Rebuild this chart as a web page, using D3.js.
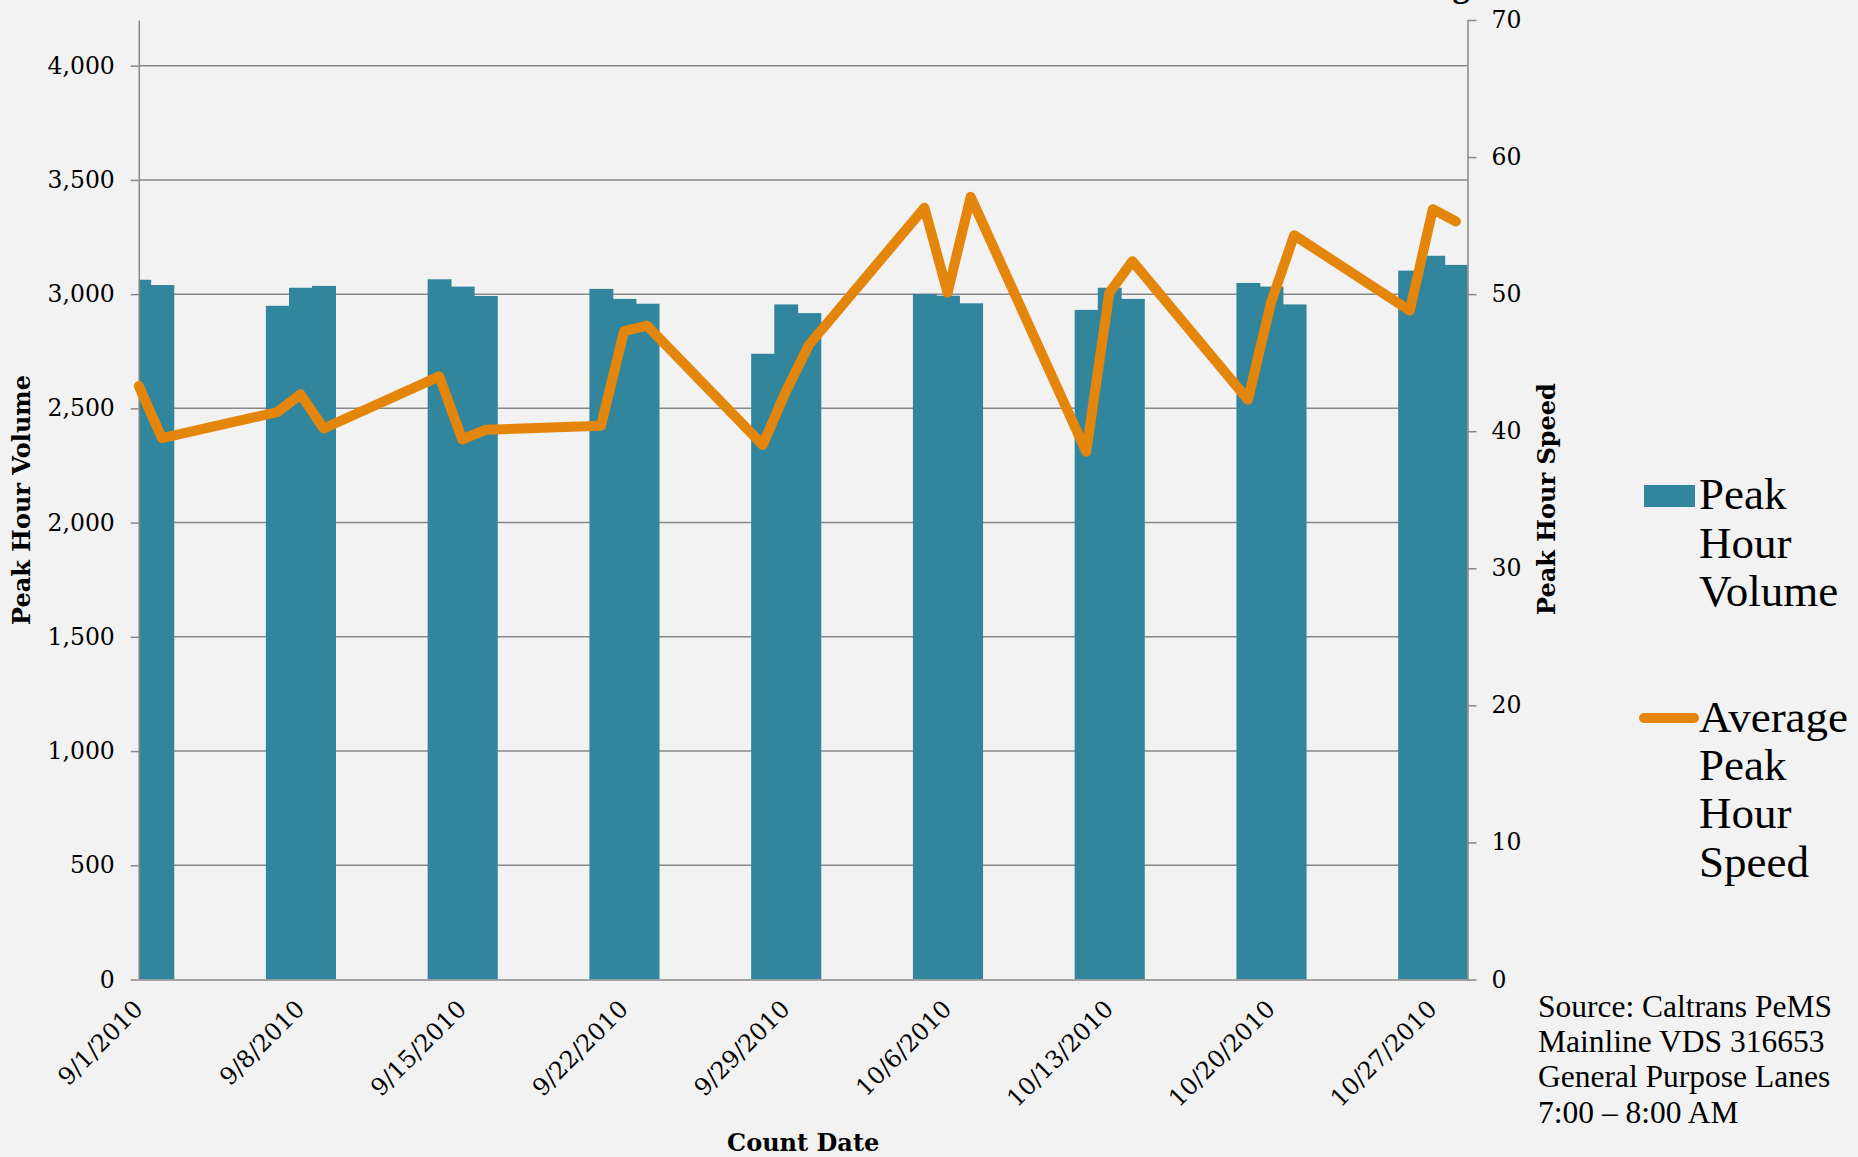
<!DOCTYPE html>
<html>
<head>
<meta charset="utf-8">
<script src="https://cdn.jsdelivr.net/npm/d3@7"></script>
<style>
  body { margin: 0; background: #f2f2f2; }
  svg { display: block; }
</style>
</head>
<body>
<div class="chart"></div>
<script>
// count days (three weekdays per week) and their peak hour values
var dates = ["9/1/2010", "9/2/2010", "9/7/2010", "9/8/2010", "9/9/2010",
  "9/14/2010", "9/15/2010", "9/16/2010", "9/21/2010", "9/22/2010", "9/23/2010",
  "9/28/2010", "9/29/2010", "9/30/2010", "10/5/2010", "10/6/2010", "10/7/2010",
  "10/12/2010", "10/13/2010", "10/14/2010", "10/19/2010", "10/20/2010", "10/21/2010",
  "10/26/2010", "10/27/2010", "10/28/2010"];

var volume = [3063, 3040, 2949, 3028, 3036, 3065, 3033, 2992, 3023, 2979, 2958,
  2739, 2955, 2917, 3001, 2993, 2960, 2931, 3028, 2979, 3049, 3033, 2955,
  3103, 3168, 3128];

var speed = [43.3, 39.5, 41.4, 42.7, 40.2, 44.0, 39.4, 40.1, 40.4, 47.3, 47.7,
  39.0, 42.9, 46.3, 56.3, 50.1, 57.1, 38.5, 50.1, 52.4, 42.3, 49.4, 54.3,
  48.8, 56.2, 55.3];

var dateTicks = ["9/1/2010", "9/8/2010", "9/15/2010", "9/22/2010", "9/29/2010",
  "10/6/2010", "10/13/2010", "10/20/2010", "10/27/2010"];
var volumeTicks = [0, 500, 1000, 1500, 2000, 2500, 3000, 3500, 4000];
var speedTicks = [0, 10, 20, 30, 40, 50, 60, 70];

var sourceLines = ["Source: Caltrans PeMS", "Mainline VDS 316653",
  "General Purpose Lanes", "7:00 \u2013 8:00 AM"];

var W = 1858, H = 1157;
var margin = {top: 20, right: 390.5, bottom: 177.5, left: 138.8},
    width = W - margin.left - margin.right,
    height = H - margin.top - margin.bottom;

var blue = "#31859c", orange = "#e4860b", grid = "#888888";

var parse = d3.timeParse("%m/%d/%Y"),
    fmt = d3.timeFormat("%-m/%-d/%Y");

var data = dates.map(function(d, i) {
  return {date: parse(d), volume: volume[i], speed: speed[i]};
});

// date axis: bars centred on their day, axis runs from 9/1 to half past 10/28
var x = d3.scaleTime()
    .domain([parse("9/1/2010"), d3.timeHour.offset(parse("10/28/2010"), 12)])
    .range([0, width]);
var yL = d3.scaleLinear().domain([0, 4200]).range([height, 0]);
var yR = d3.scaleLinear().domain([0, 70]).range([height, 0]);

var dayW = x(parse("9/2/2010")) - x(parse("9/1/2010"));

var svg = d3.select(".chart").append("svg")
    .attr("width", W)
    .attr("height", H)
    .style("background", "#f2f2f2");

// chart title, cut off at the top edge in the original
svg.append("text")
    .attr("x", margin.left + width + 2)
    .attr("y", -3)
    .attr("text-anchor", "end")
    .style("font-family", "Liberation Serif")
    .style("font-weight", "bold")
    .style("font-size", "34px")
    .text("Morning");

var g = svg.append("g")
    .attr("transform", "translate(" + margin.left + "," + margin.top + ")");

g.append("clipPath").attr("id", "plot")
  .append("rect").attr("width", width).attr("height", height);

// horizontal gridlines
g.append("g").selectAll("line")
    .data(volumeTicks.filter(function(d) { return d > 0; }))
    .enter().append("line")
    .attr("x1", 0).attr("x2", width)
    .attr("y1", function(d) { return yL(d); })
    .attr("y2", function(d) { return yL(d); })
    .style("stroke", grid)
    .style("stroke-width", 1.5);

// volume bars (a hair wider so neighbours touch without seams)
g.append("g").attr("clip-path", "url(#plot)")
  .selectAll("rect")
    .data(data)
    .enter().append("rect")
    .attr("x", function(d) { return x(d.date) - dayW / 2; })
    .attr("y", function(d) { return yL(d.volume); })
    .attr("width", dayW + 0.8)
    .attr("height", function(d) { return height - yL(d.volume); })
    .style("fill", blue);

function styleAxis(sel) {
  sel.select(".domain").style("stroke", grid).style("stroke-width", 1.5);
  sel.selectAll(".tick line").style("stroke", grid).style("stroke-width", 1.5);
  sel.selectAll(".tick text")
    .style("font-family", "DejaVu Serif")
    .style("font-size", "23.5px")
    .style("fill", "#000");
}

g.append("g")
    .call(d3.axisLeft(yL).tickValues(volumeTicks).tickFormat(d3.format(","))
      .tickSize(8).tickSizeOuter(0).tickPadding(16))
    .call(styleAxis);

g.append("g")
    .attr("transform", "translate(" + width + ",0)")
    .call(d3.axisRight(yR).tickValues(speedTicks)
      .tickSize(9).tickSizeOuter(0).tickPadding(15))
    .call(styleAxis);

var xAxis = g.append("g")
    .attr("transform", "translate(0," + height + ")")
    .call(d3.axisBottom(x).tickValues(dateTicks.map(parse)).tickFormat(fmt)
      .tickSize(0).tickSizeOuter(0))
    .call(styleAxis);

xAxis.selectAll(".tick text")
    .style("font-size", "24px")
    .attr("y", 0)
    .attr("dy", null)
    .attr("text-anchor", "end")
    .attr("transform", "translate(5,31) rotate(-45)");

// speed line
var line = d3.line()
    .x(function(d) { return x(d.date); })
    .y(function(d) { return yR(d.speed); });

g.append("path")
    .datum(data)
    .attr("d", line)
    .style("fill", "none")
    .style("stroke", orange)
    .style("stroke-width", 10)
    .style("stroke-linejoin", "round")
    .style("stroke-linecap", "round");

// axis titles
var titleStyle = function(sel) {
  sel.style("font-family", "DejaVu Serif")
    .style("font-weight", "bold")
    .style("font-size", "24px")
    .attr("text-anchor", "middle");
};

svg.append("text")
    .attr("transform", "translate(30,500) rotate(-90)")
    .call(titleStyle)
    .text("Peak Hour Volume");

svg.append("text")
    .attr("transform", "translate(1555,499) rotate(-90)")
    .call(titleStyle)
    .text("Peak Hour Speed");

svg.append("text")
    .attr("x", margin.left + width / 2)
    .attr("y", 1151)
    .call(titleStyle)
    .text("Count Date");

// legend
var legend = svg.append("g").attr("transform", "translate(1699,0)");
var legendFont = function(sel) {
  sel.style("font-family", "Liberation Serif").style("font-size", "45px");
};

legend.append("rect")
    .attr("x", -55).attr("y", 485)
    .attr("width", 51).attr("height", 22)
    .style("fill", blue);

legend.append("text").call(legendFont)
  .selectAll("tspan")
    .data(["Peak", "Hour", "Volume"])
    .enter().append("tspan")
    .attr("x", 0)
    .attr("y", function(d, i) { return 509 + i * 48.7; })
    .text(function(d) { return d; });

legend.append("line")
    .attr("x1", -55).attr("x2", -5)
    .attr("y1", 718).attr("y2", 718)
    .style("stroke", orange)
    .style("stroke-width", 10)
    .style("stroke-linecap", "round");

legend.append("text").call(legendFont)
  .selectAll("tspan")
    .data(["Average", "Peak", "Hour", "Speed"])
    .enter().append("tspan")
    .attr("x", 0)
    .attr("y", function(d, i) { return 731.5 + i * 48.4; })
    .text(function(d) { return d; });

// source note
svg.append("text")
    .style("font-family", "Liberation Serif")
    .style("font-size", "31.5px")
  .selectAll("tspan")
    .data(sourceLines)
    .enter().append("tspan")
    .attr("x", 1538)
    .attr("y", function(d, i) { return 1017 + i * 35.2; })
    .text(function(d) { return d; });
</script>
</body>
</html>
